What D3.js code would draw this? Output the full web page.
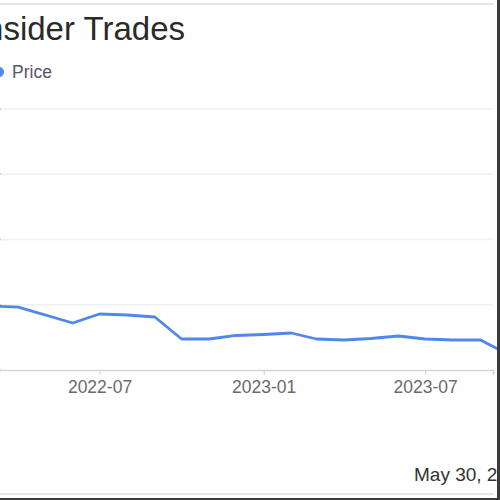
<!DOCTYPE html>
<html>
<head>
<meta charset="utf-8">
<script src="https://cdn.jsdelivr.net/npm/d3@7"></script>
<style>
  body { margin: 0; background: #fff; }
  text { font-family: "Liberation Sans", Arial, sans-serif; }
</style>
</head>
<body>
<div id="container"></div>
<script>
const width = 500;
const height = 500;

// price points, roughly monthly
const dates = ["2022-03-01","2022-04-01","2022-06-01","2022-07-01","2022-08-01","2022-09-01",
  "2022-10-01","2022-11-01","2022-12-01","2023-01-01","2023-02-01","2023-03-01","2023-04-01",
  "2023-05-01","2023-06-01","2023-07-01","2023-08-01","2023-09-01","2023-10-01"];
const prices = [9.8,9.65,7.2,8.58,8.43,8.12,4.75,4.75,5.29,5.44,5.67,4.75,4.6,4.83,5.21,4.75,4.6,4.6,2.45];
const yTicks = [0,10,20,30,40];
const xTicks = ["2022-01-01","2022-07-01","2023-01-01","2023-07-01"];
const title = "Insider Trades";
const seriesName = "Price";
const dateNote = "May 30, 2024";

const parse = d3.timeParse("%Y-%m-%d");
const data = dates.map((d,i) => ({date: parse(d), value: prices[i]}));

const svg = d3.select("#container")
  .append("svg")
  .attr("width",width)
  .attr("height",height);

const x = d3.scaleTime()
  .domain([parse("2022-01-01"), parse("2023-09-15")])
  .range([-62, 493]);

const y = d3.scaleLinear()
  .domain([0,40])
  .range([370,109]);

// card frame
svg.append("line").attr("x1",0).attr("x2",494).attr("y1",4).attr("y2",4)
  .attr("stroke","#e6e6e9").attr("stroke-width",2);
svg.append("line").attr("x1",0).attr("x2",494).attr("y1",494).attr("y2",494)
  .attr("stroke","#e6e6e9").attr("stroke-width",2);

// gridlines
svg.append("g")
  .selectAll("line")
  .data(yTicks.slice(1))
  .enter()
  .append("line")
  .attr("x1",-62)
  .attr("x2",493)
  .attr("y1",d => y(d))
  .attr("y2",d => y(d))
  .attr("stroke","#f0f0f3")
  .attr("stroke-width",1.5);

// little y ticks peeking in at the left edge
svg.append("g")
  .selectAll("line")
  .data(yTicks)
  .enter()
  .append("line")
  .attr("x1",-6)
  .attr("x2",1)
  .attr("y1",d => y(d))
  .attr("y2",d => y(d))
  .attr("stroke","#c8c8cc")
  .attr("stroke-width",1.5);

const xAxis = svg.append("g")
  .attr("transform","translate(0," + y(0) + ")")
  .call(d3.axisBottom(x)
    .tickValues(xTicks.map(parse))
    .tickFormat(d3.timeFormat("%Y-%m"))
    .tickSize(5)
    .tickPadding(6));
xAxis.select(".domain").attr("stroke","#d6d6da").attr("stroke-width",1.5);
xAxis.selectAll(".tick line").attr("stroke","#d0d0d4");
xAxis.selectAll(".tick text")
  .attr("fill","#6a6a6a")
  .style("font-size","17.5px")
  .style("font-family","'Liberation Sans', Arial, sans-serif");

const line = d3.line()
  .x(d => x(d.date))
  .y(d => y(d.value));

svg.append("path")
  .datum(data)
  .attr("d",line)
  .attr("fill","none")
  .attr("stroke","#4f87ea")
  .attr("stroke-width",2.8)
  .attr("stroke-linejoin","round");

// title and legend
svg.append("text")
  .attr("x",185)
  .attr("y",40)
  .attr("text-anchor","end")
  .attr("fill","#2a2a2a")
  .style("font-size","33px")
  .text(title);

svg.append("circle")
  .attr("cx",-1)
  .attr("cy",72)
  .attr("r",5)
  .attr("fill","#4f87ea");

svg.append("text")
  .attr("x",12)
  .attr("y",78)
  .attr("fill","#55556a")
  .style("font-size","17.5px")
  .text(seriesName);

svg.append("text")
  .attr("x",414)
  .attr("y",481)
  .attr("fill","#333")
  .style("font-size","19px")
  .text(dateNote);

// dark window edge
svg.append("rect").attr("x",497).attr("y",0).attr("width",3).attr("height",500).attr("fill","#3a3a3a");
svg.append("rect").attr("x",0).attr("y",498).attr("width",500).attr("height",2).attr("fill","#3a3a3a");
</script>
</body>
</html>
